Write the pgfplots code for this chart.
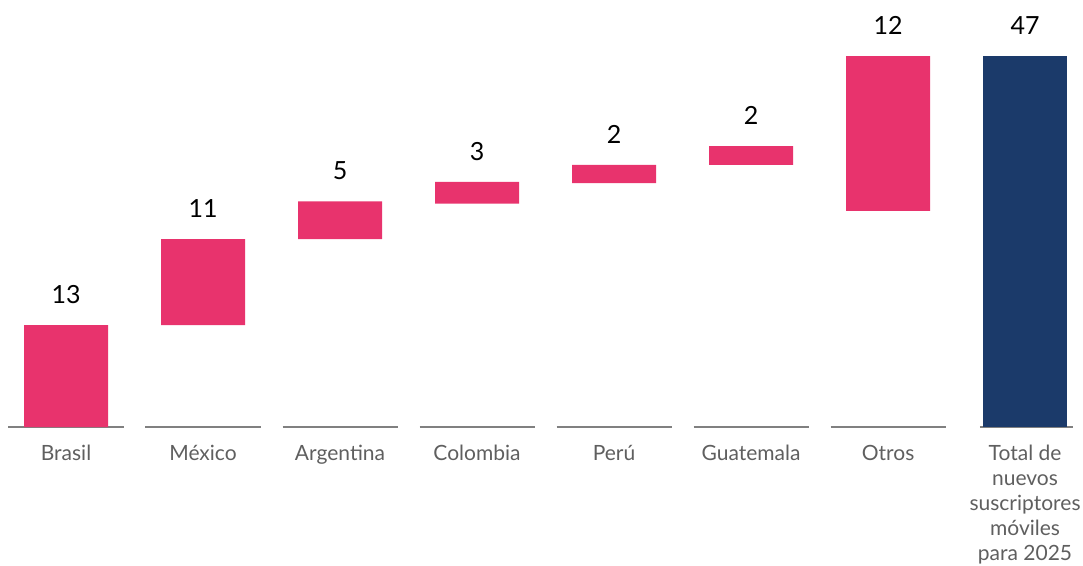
\documentclass[border=0pt]{standalone}
\usepackage{pgfplots}
\pgfplotsset{compat=1.18}
\usepackage{pgfplotstable}
\usepackage{fontspec}
\setmainfont{Lato}
\definecolor{pinkbar}{HTML}{E8336D}
\definecolor{navybar}{HTML}{1B3A6A}
\definecolor{labgray}{HTML}{5F5F5F}
\definecolor{linegray}{HTML}{808080}
\newcommand{\ts}{\rule{0pt}{20pt}}
\pgfplotstableread{
x base pink navy top lbl
0 0    12.9 0  12.9 13
1 12.9 10.9 0  23.8 11
2 23.8 4.8  0  28.6 5
3 28.3 2.75 0  31.05 3
4 30.9 2.3  0  33.2 2
5 33.2 2.4  0  35.6 2
6 27.4 19.6 0  47 12
7 0    0    47 47 47
}\datatable
\pgfplotsset{common/.style={
  scale only axis,
  width=1083pt, height=427pt,
  xmin=-0.482, xmax=7.423,
  ymin=0, ymax=54.1,
  axis line style={draw=none},
  tick style={draw=none},
  ytick=\empty,
  clip=false,
}}
\begin{document}
\begin{tikzpicture}
\begin{axis}[
  common,
  name=ax,
  ybar stacked,
  bar width=84pt,
  xtick={0,...,7},
  xticklabels={\ts Brasil,\ts México,\ts Argentina,\ts Colombia,\ts Perú,\ts Guatemala,\ts Otros,{\ts Total de\\nuevos\\suscriptores\\móviles\\para 2025}},
  xticklabel style={font=\fontsize{21}{25}\selectfont, text=labgray, align=center, anchor=north, inner sep=0pt, yshift=-13pt},
]
\addplot[draw=none, fill=none] table[x=x, y=base] {\datatable};
\addplot[draw=none, fill=pinkbar] table[x=x, y=pink] {\datatable};
\addplot[draw=none, fill=navybar] table[x=x, y=navy] {\datatable};
\pgfplotsinvokeforeach{0,...,6}{
  \draw[linegray, line width=1.5pt] (axis cs:#1-0.42,0) -- (axis cs:#1+0.42,0);
}
\draw[linegray, line width=1.5pt] (axis cs:6.67,0) -- (axis cs:7.35,0);
\end{axis}
\begin{axis}[
  common,
  xtick=\empty,
]
\addplot[only marks, mark=none, nodes near coords, point meta=explicit symbolic,
  every node near coord/.style={anchor=south, inner sep=0pt, yshift=21pt, font=\fontsize{25}{30}\selectfont, text=black}]
  table[x=x, y=top, meta=lbl] {\datatable};
\end{axis}
\pgfresetboundingbox
\path[use as bounding box] ([yshift=-138pt]ax.south west) rectangle (ax.north east);
\end{tikzpicture}
\end{document}
